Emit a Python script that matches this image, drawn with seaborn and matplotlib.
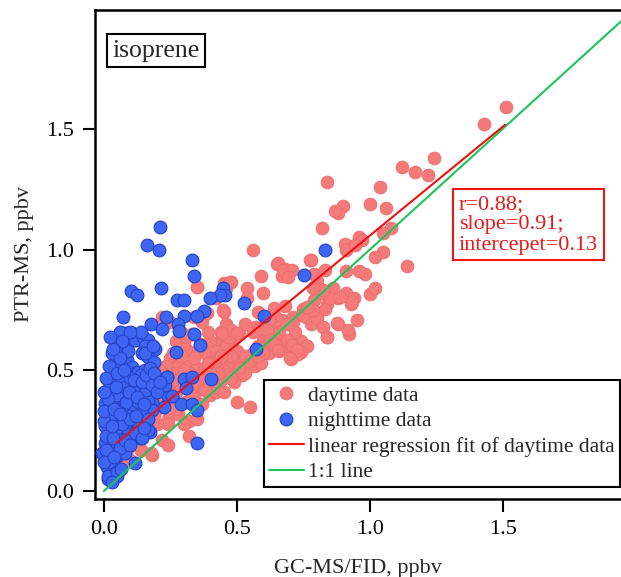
import numpy as np
import pandas as pd
import matplotlib
matplotlib.use("Agg")
import matplotlib.pyplot as plt
from matplotlib.lines import Line2D
import seaborn as sns

# ---------------- data ----------------
day_x = [1.51, 1.43, 1.24, 1.12, 1.17, 1.22, 0.84, 1.04, 1.00, 0.90, 0.88, 0.87, 1.06, 0.82, 1.08,
         1.05, 0.56, 0.905, 0.91, 0.96, 0.97, 1.05, 1.02, 1.14, 0.78, 0.65, 0.68, 0.70, 0.67, 0.59,
         0.79, 0.80, 0.98, 0.91, 0.96, 0.35, 0.48, 0.54, 0.60, 0.54, 0.80, 0.845, 0.88, 0.91, 1.00,
         1.02, 0.94, 0.93, 0.84, 0.83, 0.75, 0.78, 0.68, 0.64, 0.64, 0.67, 0.58, 0.45, 0.38, 0.34,
         0.71, 0.71, 0.745, 0.78, 0.88, 0.95, 0.92, 0.84, 0.65, 0.65, 0.60, 0.57, 0.61, 0.53, 0.46,
         0.44, 0.51, 0.49, 0.44, 0.40, 0.36, 0.60, 0.58, 0.63, 0.70, 0.73, 0.74, 0.765, 0.72, 0.74,
         0.705, 0.73, 0.56, 0.54, 0.50, 0.46, 0.42, 0.38, 0.35, 0.31, 0.30, 0.25, 0.235, 0.28, 0.32,
         0.35, 0.38, 0.42, 0.47, 0.52, 0.57, 0.45, 0.37, 0.32, 0.27, 0.22, 0.20, 0.24, 0.28, 0.32,
         0.36, 0.40, 0.44, 0.33, 0.27, 0.23, 0.19, 0.175, 0.22, 0.26, 0.31, 0.34, 0.37, 0.40, 0.42,
         0.20, 0.16, 0.24, 0.28, 0.32, 0.35, 0.30, 0.24, 0.14, 0.12, 0.11, 0.07, 0.06, 0.07, 0.14,
         0.18, 0.22, 0.24, 0.32, 0.50, 0.55, 0.45, 0.41, 0.38, 0.49, 0.53, 0.59, 0.62, 0.66, 0.68,
         0.46, 0.42, 0.50, 0.48, 0.29, 0.27, 0.33, 0.39, 0.37, 0.29, 0.22, 0.25, 0.42, 0.46, 0.45,
         0.53, 0.60, 0.17, 0.20, 0.15, 0.21, 0.26, 0.31, 0.13, 0.09, 0.10,
         0.25, 0.29, 0.33, 0.36, 0.39, 0.43, 0.48, 0.51, 0.55, 0.58, 0.62, 0.66, 0.69, 0.72, 0.76,
         0.79, 0.82, 0.86, 0.26, 0.30, 0.34, 0.23, 0.19, 0.27, 0.40, 0.44, 0.47, 0.56, 0.62,
         0.656, 0.674, 0.707, 0.693, 0.474, 0.448, 0.387, 0.462, 0.48, 0.50, 0.443, 0.587, 0.612,
         0.625, 0.643, 0.656, 0.687, 0.706, 0.725, 0.70, 0.80, 0.825, 0.838, 0.75, 0.787, 0.762,
         0.85, 0.887, 0.932, 0.875, 0.919, 0.831, 0.825, 0.787, 0.944, 0.775, 0.349,
         0.071, 0.065, 0.14, 0.177]
day_y = [1.59, 1.52, 1.38, 1.34, 1.32, 1.31, 1.28, 1.26, 1.19, 1.18, 1.15, 1.16, 1.17, 1.09, 1.09,
         1.07, 1.00, 1.025, 1.00, 1.05, 1.04, 0.99, 0.97, 0.93, 0.955, 0.94, 0.92, 0.91, 0.89, 0.89,
         0.90, 0.87, 0.90, 0.91, 0.91, 0.845, 0.865, 0.84, 0.82, 0.80, 0.825, 0.80, 0.80, 0.82, 0.815,
         0.84, 0.80, 0.775, 0.775, 0.755, 0.755, 0.76, 0.765, 0.76, 0.73, 0.71, 0.74, 0.74, 0.74, 0.72,
         0.72, 0.70, 0.73, 0.69, 0.69, 0.71, 0.65, 0.64, 0.68, 0.64, 0.67, 0.68, 0.65, 0.69, 0.69,
         0.66, 0.65, 0.63, 0.62, 0.62, 0.61, 0.62, 0.60, 0.59, 0.625, 0.61, 0.62, 0.60, 0.59, 0.575,
         0.548, 0.567, 0.57, 0.55, 0.53, 0.54, 0.55, 0.57, 0.58, 0.59, 0.61, 0.55, 0.52, 0.52, 0.52,
         0.51, 0.51, 0.52, 0.52, 0.48, 0.52, 0.50, 0.48, 0.49, 0.49, 0.49, 0.46, 0.45, 0.45, 0.46,
         0.44, 0.45, 0.46, 0.43, 0.41, 0.42, 0.43, 0.38, 0.36, 0.36, 0.37, 0.39, 0.36, 0.40, 0.41,
         0.34, 0.33, 0.30, 0.32, 0.29, 0.30, 0.28, 0.28, 0.28, 0.26, 0.24, 0.22, 0.17, 0.12, 0.17,
         0.15, 0.21, 0.19, 0.23, 0.37, 0.35, 0.41, 0.43, 0.42, 0.45, 0.49, 0.53, 0.57, 0.58, 0.60,
         0.60, 0.58, 0.58, 0.56, 0.56, 0.62, 0.65, 0.66, 0.70, 0.66, 0.72, 0.70, 0.80, 0.84, 0.86,
         0.56, 0.57, 0.25, 0.28, 0.31, 0.50, 0.57, 0.64, 0.21, 0.18, 0.13,
         0.40, 0.43, 0.40, 0.47, 0.53, 0.49, 0.47, 0.51, 0.54, 0.56, 0.63, 0.66, 0.69, 0.66, 0.72,
         0.79, 0.82, 0.84, 0.46, 0.50, 0.55, 0.38, 0.31, 0.34, 0.49, 0.56, 0.64, 0.66, 0.71,
         0.943, 0.915, 0.915, 0.887, 0.866, 0.75, 0.736, 0.681, 0.667, 0.654, 0.654, 0.674, 0.667,
         0.626, 0.605, 0.585, 0.626, 0.605, 0.585, 0.55, 0.716, 0.681, 0.64, 0.73, 0.75, 0.764,
         0.798, 0.805, 0.784, 0.695, 0.667, 0.916, 0.833, 0.84, 1.019, 0.957, 0.847,
         0.164, 0.116, 0.171, 0.157]

night_x = [0.21, 0.161, 0.208, 0.332, 0.339, 0.214, 0.101, 0.124, 0.830, 0.753, 0.449, 0.455, 0.437,
           0.40, 0.277, 0.30, 0.528, 0.376, 0.35, 0.604, 0.071, 0.235, 0.30, 0.176, 0.217, 0.28,
           0.284, 0.339, 0.362, 0.272, 0.574, 0.238, 0.302, 0.33, 0.31, 0.402, 0.243, 0.292, 0.332,
           0.351, 0.225, 0.183, 0.135, 0.173, 0.35, 0.119, 0.015, 0.14,
           0.055, 0.08, 0.105, 0.092, 0.073, 0.048, 0.117, 0.148, 0.167, 0.18, 0.192, 0.155, 0.142,
           0.167, 0.19, 0.048, 0.067, 0.042, 0.086, 0.105, 0.03, 0.061, 0.086, 0.117, 0.13, 0.155,
           0.167, 0.167, 0.186, 0.205, 0.186, 0.23, 0.236, 0.255, 0.036, 0.055, 0.067, 0.042, 0.017,
           0.005, 0.03, 0.061, 0.092, 0.111, 0.142, 0.13, 0.167, 0.18, 0.13, 0.105, 0.08, 0.055,
           0.023, 0.005, 0.036, 0.067, 0.098, 0.124, 0.142, 0.092, 0.117, 0.061, 0.023, 0.005,
           -0.008, 0.023, 0.048, 0.08, 0.011, 0.042, 0.017, 0.048, 0.167, 0.142,
           0.01, 0.03, 0.05, 0.02, 0.06, 0.04, 0.07, 0.09, 0.11, 0.12, 0.0, 0.015, 0.035, 0.06,
           0.08, 0.10, 0.14, 0.13, 0.16, 0.02, 0.05, 0.07, 0.03, 0.05, 0.09, 0.14,
           0.06, 0.10,
           0.0, 0.0, 0.01, 0.02, 0.01, 0.0, 0.03, 0.04, 0.045, 0.05, 0.06, 0.07, 0.075, 0.085,
           0.095, 0.10, 0.115, 0.125, 0.145, 0.15, 0.155, 0.16, 0.165, 0.175, 0.18, 0.185, 0.19,
           0.20, 0.21, 0.035, 0.025, 0.08, 0.10, 0.12, 0.15, 0.06, 0.04, 0.065, 0.03]
night_y = [1.092, 1.02, 1.00, 0.955, 0.89, 0.842, 0.83, 0.81, 0.997, 0.894, 0.84, 0.812, 0.812,
           0.80, 0.79, 0.79, 0.777, 0.746, 0.726, 0.723, 0.72, 0.72, 0.726, 0.693, 0.67, 0.693,
           0.662, 0.65, 0.605, 0.576, 0.59, 0.472, 0.465, 0.474, 0.426, 0.465, 0.396, 0.362, 0.362,
           0.335, 0.35, 0.365, 0.221, 0.244, 0.201, 0.117, 0.05, 0.226,
           0.64, 0.654, 0.654, 0.626, 0.612, 0.606, 0.626, 0.64, 0.626, 0.599, 0.588, 0.599, 0.571,
           0.557, 0.536, 0.557, 0.571, 0.53, 0.543, 0.516, 0.495, 0.488, 0.46, 0.488, 0.495, 0.502,
           0.488, 0.46, 0.454, 0.44, 0.419, 0.44, 0.474, 0.392, 0.454, 0.433, 0.405, 0.378, 0.405,
           0.364, 0.337, 0.364, 0.378, 0.405, 0.419, 0.44, 0.378, 0.337, 0.309, 0.323, 0.323, 0.295,
           0.295, 0.268, 0.254, 0.254, 0.268, 0.288, 0.323, 0.24, 0.24, 0.213, 0.192, 0.199,
           0.158, 0.144, 0.144, 0.158, 0.102, 0.102, 0.061, 0.061, 0.254, 0.22,
           0.23, 0.31, 0.40, 0.45, 0.47, 0.52, 0.35, 0.29, 0.36, 0.43, 0.29, 0.38, 0.22, 0.18,
           0.43, 0.47, 0.48, 0.37, 0.42, 0.12, 0.08, 0.28, 0.57, 0.60, 0.58, 0.66,
           0.66, 0.66,
           0.33, 0.41, 0.47, 0.52, 0.17, 0.12, 0.27, 0.34, 0.43, 0.49, 0.55, 0.62, 0.50, 0.37,
           0.41, 0.30, 0.46, 0.39, 0.45, 0.36, 0.57, 0.48, 0.30, 0.51, 0.44, 0.60, 0.49,
           0.41, 0.45, 0.59, 0.64, 0.21, 0.19, 0.31, 0.26, 0.32, 0.14, 0.09, 0.04]

fit_x = [0.048, 1.508]
fit_y = [0.199, 1.516]
one_x = [0.0, 2.0]
one_y = [0.0, 2.0]

x_ticks = [0.0, 0.5, 1.0, 1.5]
y_ticks = [0.0, 0.5, 1.0, 1.5]
x_label = "GC-MS/FID, ppbv"
y_label = "PTR-MS, ppbv"
compound = "isoprene"
stats_text = "r=0.88;\nslope=0.91;\nintercepet=0.13"
legend_labels = ["daytime data", "nighttime data",
                 "linear regression fit of daytime data", "1:1 line"]

# ---------------- styling ----------------
sns.set_style("ticks")
plt.rcParams["font.family"] = ["Liberation Serif", "DejaVu Serif"]

RED_PT = "#F47A7A"
RED_EDGE = "#EC6C6C"
BLUE_PT = "#3F66F2"
BLUE_EDGE = "#2443C6"
FIT_RED = "#EE1111"
GREEN = "#1DC45C"

df = pd.concat([
    pd.DataFrame({"x": day_x, "y": day_y, "period": "day"}),
    pd.DataFrame({"x": night_x, "y": night_y, "period": "night"}),
], ignore_index=True)

W, H = 621, 577
fig = plt.figure(figsize=(W / 100, H / 100), dpi=100)
ax = fig.add_axes([95 / W, 1 - 498.7 / H, 526 / W, 488.4 / H])

sns.scatterplot(data=df[df.period == "day"], x="x", y="y", color=RED_PT,
                edgecolor=RED_EDGE, linewidth=0.6, s=85, ax=ax, legend=False, zorder=2)
sns.scatterplot(data=df[df.period == "night"], x="x", y="y", color=BLUE_PT,
                edgecolor=BLUE_EDGE, linewidth=0.8, s=85, ax=ax, legend=False, zorder=3)

ax.plot(one_x, one_y, color=GREEN, lw=1.5, zorder=4)
ax.plot(fit_x, fit_y, color=FIT_RED, lw=1.5, zorder=5)

ax.set_xlim(-0.033, 1.944)
ax.set_ylim(-0.031, 1.990)
ax.set_xticks(x_ticks)
ax.set_yticks(y_ticks)
ax.set_xticklabels([f"{t:.1f}" for t in x_ticks])
ax.set_yticklabels([f"{t:.1f}" for t in y_ticks])
ax.tick_params(axis="both", direction="out", length=9, width=1.5, labelsize=16,
               pad=6, color="black", labelcolor="black")
for side in ["left", "top", "bottom"]:
    ax.spines[side].set_linewidth(1.8)
    ax.spines[side].set_color("black")
ax.spines["right"].set_visible(False)

ax.set_xlabel(x_label, fontsize=16, labelpad=15)
ax.set_ylabel(y_label, fontsize=16, labelpad=8.5)

ax.text(0.116, 0.917, compound, transform=ax.transAxes, ha="center", va="center",
        fontsize=18.5, zorder=6,
        bbox=dict(boxstyle="square,pad=0.22", facecolor="white", edgecolor="black", linewidth=1.5))

ax.text(0.692, 0.561, stats_text, transform=ax.transAxes, ha="left", va="center",
        fontsize=16, color="#F01515", linespacing=1.1, zorder=6,
        bbox=dict(boxstyle="square,pad=0.25", facecolor="white", edgecolor="#F01515", linewidth=1.5))

handles = [
    Line2D([], [], marker="o", linestyle="none", markersize=9.2, markerfacecolor=RED_PT,
           markeredgecolor=RED_EDGE, markeredgewidth=0.6),
    Line2D([], [], marker="o", linestyle="none", markersize=9.2, markerfacecolor=BLUE_PT,
           markeredgecolor=BLUE_EDGE, markeredgewidth=0.8),
    Line2D([], [], color=FIT_RED, lw=1.5),
    Line2D([], [], color=GREEN, lw=1.5),
]
leg = ax.legend(handles, legend_labels, loc="lower right", bbox_to_anchor=(0.998, 0.023),
                borderaxespad=0, fontsize=15.5, frameon=True, fancybox=False, shadow=False,
                framealpha=1, edgecolor="black", handlelength=1.6, handletextpad=0.2,
                borderpad=0.25, labelspacing=0.25)
leg.get_frame().set_linewidth(1.5)
leg.set_zorder(7)

fig.savefig("out.png", dpi=100)
